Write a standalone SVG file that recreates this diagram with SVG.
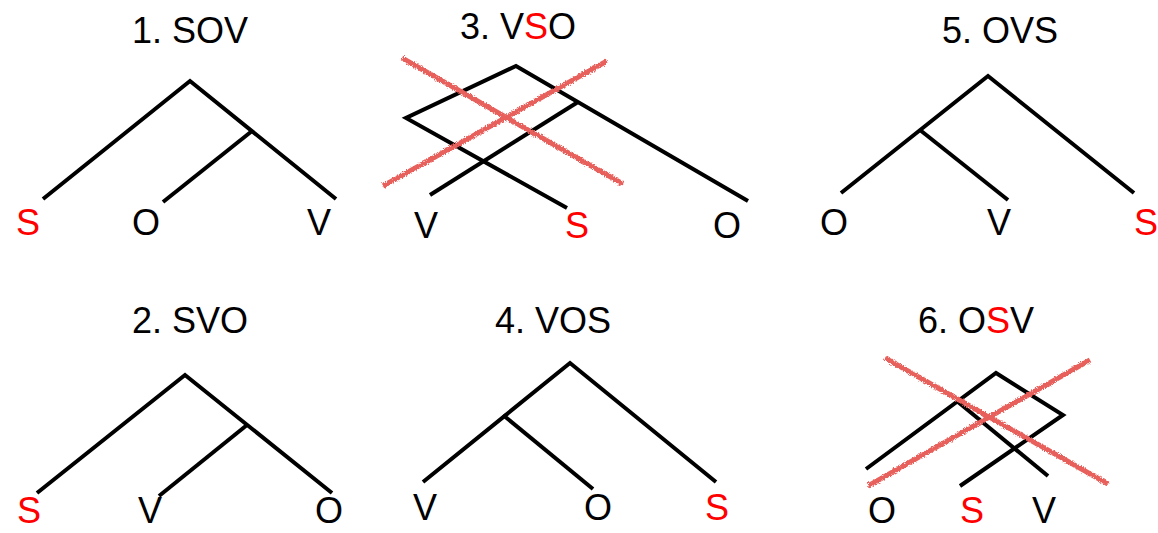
<svg xmlns="http://www.w3.org/2000/svg" width="1158" height="533" viewBox="0 0 1158 533">
  <style>
    .edge { stroke: #000; stroke-width: 4; fill: none; stroke-linecap: butt; stroke-linejoin: miter; }
    .title { font-family: "Liberation Sans", Arial, sans-serif; font-size: 36px; fill: #000; text-anchor: middle; }
    .leaf { font-family: "Liberation Sans", Arial, sans-serif; font-size: 36px; fill: #000; text-anchor: middle; }
    .subj { fill: #ff0000; }
    .cross { stroke: #e8605b; stroke-width: 5; fill: none; filter: url(#crayon); }
  </style>
  <defs>
    <!-- rough crayon edge for the strike-through marks -->
    <filter id="crayon" x="-10%" y="-10%" width="120%" height="120%">
      <feTurbulence type="fractalNoise" baseFrequency="0.9" numOctaves="2" seed="3" result="noise"/>
      <feDisplacementMap in="SourceGraphic" in2="noise" scale="4" xChannelSelector="R" yChannelSelector="G"/>
    </filter>
  </defs>
  <rect width="1158" height="533" fill="#fff"/>

  <!-- 1. SOV -->
  <g id="tree-sov">
    <text class="title" x="190" y="43">1. SOV</text>
    <polyline class="edge" points="43,199 190,81 336,199"/>
    <line class="edge" x1="252" y1="131" x2="163" y2="202"/>
    <text class="leaf subj" x="28" y="235">S</text>
    <text class="leaf" x="146" y="235">O</text>
    <text class="leaf" x="319" y="235">V</text>
  </g>

  <!-- 2. SVO -->
  <g id="tree-svo">
    <text class="title" x="190" y="333">2. SVO</text>
    <polyline class="edge" points="37,493 185,375 332,493"/>
    <line class="edge" x1="247" y1="425" x2="159" y2="496"/>
    <text class="leaf subj" x="29" y="523">S</text>
    <text class="leaf" x="150" y="523">V</text>
    <text class="leaf" x="329" y="523">O</text>
  </g>

  <!-- 3. VSO (crossed out) -->
  <g id="tree-vso">
    <text class="title" x="518" y="39">3. V<tspan class="subj">S</tspan>O</text>
    <polyline class="edge" points="567,208 406,118 516,66 748,201"/>
    <line class="edge" x1="578" y1="102" x2="430" y2="195"/>
    <text class="leaf" x="426" y="238">V</text>
    <text class="leaf subj" x="577" y="238">S</text>
    <text class="leaf" x="727" y="238">O</text>
    <line class="cross" x1="402" y1="58" x2="623" y2="184"/>
    <line class="cross" x1="383" y1="186" x2="607" y2="61"/>
  </g>

  <!-- 4. VOS -->
  <g id="tree-vos">
    <text class="title" x="553" y="333">4. VOS</text>
    <polyline class="edge" points="423,482 570,363 716,482"/>
    <line class="edge" x1="503" y1="415" x2="593" y2="489"/>
    <text class="leaf" x="425" y="520">V</text>
    <text class="leaf" x="598" y="520">O</text>
    <text class="leaf subj" x="717" y="520">S</text>
  </g>

  <!-- 5. OVS -->
  <g id="tree-ovs">
    <text class="title" x="1000" y="43">5. OVS</text>
    <polyline class="edge" points="841,193 988,76 1134,193"/>
    <line class="edge" x1="920" y1="130" x2="1008" y2="200"/>
    <text class="leaf" x="834" y="235">O</text>
    <text class="leaf" x="999" y="235">V</text>
    <text class="leaf subj" x="1146" y="235">S</text>
  </g>

  <!-- 6. OSV (crossed out) -->
  <g id="tree-osv">
    <text class="title" x="976" y="333">6. O<tspan class="subj">S</tspan>V</text>
    <polyline class="edge" points="866,469 996,373 1063,415 960,486"/>
    <line class="edge" x1="958" y1="402" x2="1048" y2="476"/>
    <text class="leaf" x="882" y="523">O</text>
    <text class="leaf subj" x="972" y="523">S</text>
    <text class="leaf" x="1044" y="523">V</text>
    <line class="cross" x1="885" y1="358" x2="1108" y2="484"/>
    <line class="cross" x1="868" y1="486" x2="1090" y2="360"/>
  </g>
</svg>
